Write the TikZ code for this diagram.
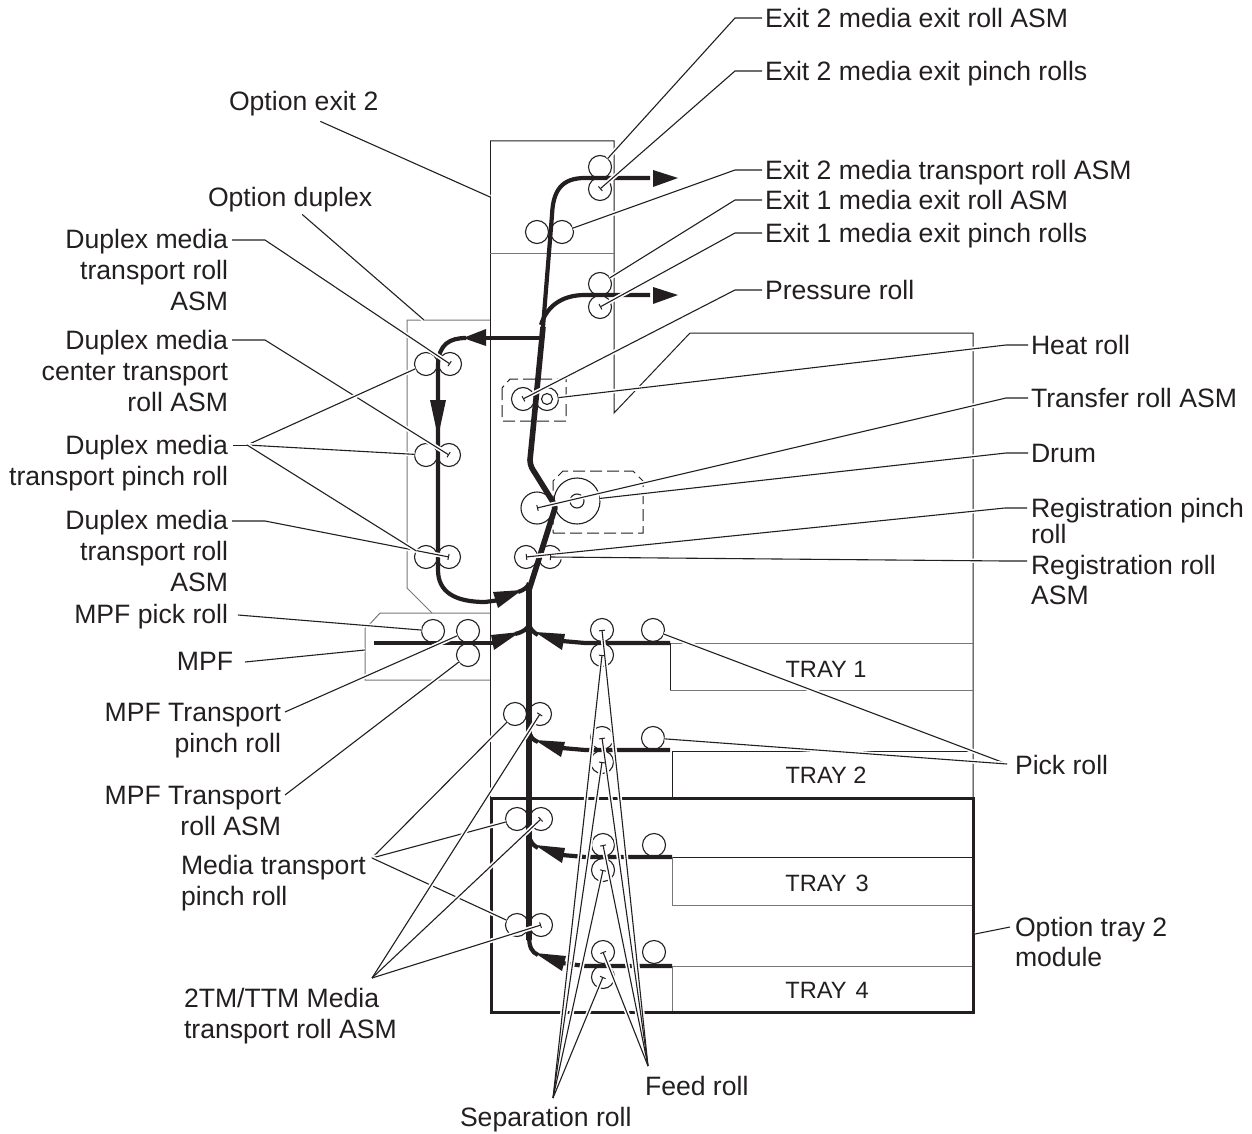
\documentclass[tikz,border=0pt]{standalone}
\usepackage{fontspec}
\setmainfont{Liberation Sans}
\usetikzlibrary{arrows.meta}
\definecolor{ink}{HTML}{231F20}
\definecolor{soft}{HTML}{777777}
\tikzset{
 x=0.5pt,y=-0.5pt,
 every node/.style={inner sep=0pt,outer sep=0pt,text=ink},
 lab/.style={font=\fontsize{13.3}{15.4}\selectfont,align=left,anchor=west},
 labr/.style={font=\fontsize{13.3}{15.4}\selectfont,align=right,anchor=east},
 traylab/.style={font=\fontsize{11.8}{13}\selectfont},
 roll/.style={circle,draw=ink,line width=.55pt,minimum size=11.5pt},
 frame/.style={draw=ink,line width=.5pt},
 framesoft/.style={draw=soft,line width=.5pt},
 trayframe/.style={draw=ink,line width=1.5pt},
 media/.style={draw=ink,line width=2.1pt,line join=round},
 mediamain/.style={draw=ink,line width=2.8pt,line join=round},
 tip/.style={fill=ink,draw=none},
 casing/.style={draw=white,line width=2.2pt},
 leader/.style={draw=ink,line width=.55pt,preaction={casing}},
 lead/.style={leader,-{Bar[width=3pt,line width=.5pt,length=0.5pt]}},
 fantop/.style={draw=ink,line width=.55pt,-{Bar[width=3pt,line width=.5pt,length=0.5pt]}},
}
\begin{document}
\begin{tikzpicture}
\useasboundingbox (0,0) rectangle (1252,1134);
% frames
\path[frame] (490,141) -- (614,141) -- (614,413) -- (690,333) -- (973,333) -- (973,798);
\path[frame] (490,141) -- (490,1012);
\path[framesoft] (490,254) -- (614,254);
\path[framesoft] (490,320) -- (407,320) -- (407,588) -- (432,613);
\path[framesoft] (490,613) -- (380,613) -- (369,625) -- (365,628) -- (365,680) -- (490,680);
\path[framesoft] (670,643) -- (973,643);
\path[frame] (670,643) -- (670,690);
\path[framesoft] (670,690) -- (973,690);
\path[frame] (672,751) -- (973,751);
\path[frame] (672,751) -- (672,798);
\path[frame] (672,857) -- (973,857);
\path[framesoft] (672,857) -- (672,905) -- (973,905);
\path[framesoft] (672,966) -- (973,966);
\path[framesoft] (672,966) -- (672,1012);
\path[frame,dashed,dash pattern=on 6pt off 2.5pt] (502,388) -- (502,421) -- (566,421) -- (566,379) -- (510,379) -- cycle;
\path[frame,dashed,dash pattern=on 6pt off 2.5pt] (553,533) -- (643,533) -- (643,481) -- (633,471) -- (563,471) -- (553,481) -- cycle;
\path[trayframe] (491,798) rectangle (973,1012);
% rolls
\foreach \n/\x/\y in {exAupper/600/167,exAlower/600/189,exTleft/537/232,exTright/562/232,
  exBupper/600/284,exBlower/600/307,dupTl/426/364,dupTr/450/364,press/523/399,heat/547/399,
  dupMl/426/455,dupMr/449/455,dupLl/426/557,dupLr/449/557,regl/526/557,regr/550/557,
  mpfPick/433/631,mpfUp/468/631,mpfDown/468/655,
  feedA/602/630,sepA/602/655,pickA/653/630,
  feedB/602/738,sepB/602/762,pickB/653/738,
  feedC/603/845,sepC/603/870,pickC/654/845,
  feedD/603/952,sepD/603/977,pickD/654/952,
  mtAl/515/714,mtAr/540/714,mtBl/517/819,mtBr/541/819,mtCl/517/925,mtCr/541/925}
  {\node[roll] (\n) at (\x,\y) {};}
\node[roll,minimum size=5.5pt] (heatcore) at (547,399) {};
\node[roll,minimum size=16pt] (transfer) at (537,508) {};
\node[roll,minimum size=23pt] (drum) at (577,501) {};
\node[roll,minimum size=7pt] (drumcore) at (577,501) {};
% media paths
\path[mediamain] (543,327) -- (533,430) -- (530,460) .. controls (530,466) and (533,470) .. (535,473) -- (553,502) -- (555,508) -- (537,565) -- (529,590) -- (529,940);
\path[media] (543,327) -- (552,215) .. controls (553,190) and (562,178) .. (585,178) -- (650,178);
\path[media] (541,325) .. controls (546,308) and (560,295) .. (585,295) -- (650,295);
\path[media] (543,338) -- (480,338);
\path[media] (466,338) .. controls (450,338) and (439,344) .. (438,364) -- (438,570) .. controls (438,592) and (455,602) .. (485,602) -- (500,600);
\path[media] (374,643) -- (495,643);
\path[media] (518,592) .. controls (524,590) and (528,587) .. (529,583);
\path[media] (515,634) .. controls (523,632) and (528,629) .. (529,624);
\path[media] (670,643) -- (585,643) -- (562,641);
\path[media] (538,635) .. controls (533,632) and (530,629) .. (529,624);
\path[media] (670,750) -- (585,750) -- (562,748);
\path[media] (538,742) .. controls (533,740) and (530,737) .. (529,730);
\path[media] (672,857) -- (585,857) -- (562,855);
\path[media] (538,848) .. controls (533,845) and (530,842) .. (529,835);
\path[media] (672,966) -- (585,966) -- (562,963);
\path[media] (538,955) .. controls (532,952) and (529,948) .. (529,935);
% arrow heads
\path[tip] (653,170) -- (678,178) -- (653,187) -- cycle;
\path[tip] (653,287) -- (678,295) -- (653,304) -- cycle;
\path[tip] (486,329) -- (463,338) -- (486,346) -- cycle;
\path[tip] (430,400) -- (438,437) -- (446,400) -- cycle;
\path[tip] (493,592) -- (522,590) -- (498,608) -- cycle;
\path[tip] (491,635) -- (520,632) -- (494,650) -- cycle;
\path[tip] (565,634) -- (535,632) -- (562,650) -- cycle;
\path[tip] (565,742) -- (535,740) -- (561,757) -- cycle;
\path[tip] (565,848) -- (535,845) -- (562,863) -- cycle;
\path[tip] (566,956) -- (535,953) -- (562,971) -- cycle;
% labels
\node[lab] (tExitAroll) at (765,18) {Exit 2 media exit roll ASM};
\node[lab] (tExitApinch) at (765,74) {Exit 2 media exit pinch rolls};
\node[lab] (tExitAtrans) at (765,173) {Exit 2 media transport roll ASM};
\node[lab] (tExitBroll) at (765,200) {Exit 1 media exit roll ASM};
\node[lab] (tExitBpinch) at (765,236) {Exit 1 media exit pinch rolls};
\node[lab] (tPress) at (765,290) {Pressure roll};
\node[lab] (tHeat) at (1031,345) {Heat roll};
\node[lab] (tTransfer) at (1031,398) {Transfer roll ASM};
\node[lab] (tDrum) at (1031,453) {Drum};
\node[lab,font=\fontsize{13.3}{13}\selectfont] (tRegP) at (1031,521) {Registration pinch\\roll};
\node[lab] (tRegR) at (1031,580) {Registration roll\\ASM};
\node[lab] (tPick) at (1015,765) {Pick roll};
\node[lab] (tOpt) at (1015,942) {Option tray 2\\module};
\node[lab] (tOptExit) at (229,104) {Option exit 2};
\node[lab] (tOptDup) at (208,200) {Option duplex};
\node[labr] (tDupA) at (228,270) {Duplex media\\transport roll\\ASM};
\node[labr] (tDupB) at (228,371) {Duplex media\\center transport\\roll ASM};
\node[labr] (tDupP) at (228,463) {Duplex media\\transport pinch roll};
\node[labr] (tDupC) at (228,551) {Duplex media\\transport roll\\ASM};
\node[labr] (tMpfPick) at (228,617) {MPF pick roll};
\node[labr] (tMpf) at (233,661) {MPF};
\node[labr] (tMpfP) at (281,731) {MPF Transport\\pinch roll};
\node[labr] (tMpfR) at (281,811) {MPF Transport\\roll ASM};
\node[lab] (tMedia) at (181,883) {Media transport\\pinch roll};
\node[lab] (tTm) at (184,1016) {2TM/TTM Media\\transport roll ASM};
\node[lab] (tFeed) at (645,1086) {Feed roll};
\node[lab] (tSep) at (460,1120) {Separation roll};
\node[traylab] (tTrayA) at (826,669) {TRAY 1};
\node[traylab] (tTrayB) at (826,775) {TRAY 2};
\node[traylab] (tTrayC) at (827,883) {TRAY\hspace{4.5pt}3};
\node[traylab] (tTrayD) at (827,990) {TRAY\hspace{4.5pt}4};
% junctions for fans
\coordinate (fPick) at (1007,764);
\coordinate (fDup) at (247,445);
\coordinate (fMedia) at (372,858);
\coordinate (fTm) at (372,978);
\coordinate (fFeed) at (648,1066);
\coordinate (fSep) at (553,1098);
\coordinate (sDupA) at (232,240);
\coordinate (sDupB) at (232,340);
\coordinate (sDupC) at (232,521);
\coordinate (sRegP) at (1027,508);
\coordinate (sRegR) at (1027,561);
\coordinate (sOpt) at (1010,927);
\coordinate (sExitA) at (762,18);
\coordinate (sExitB) at (762,71);
\coordinate (sExitC) at (762,170);
\coordinate (sExitD) at (762,200);
\coordinate (sExitE) at (762,233);
\coordinate (sPress) at (762,290);
\coordinate (sDupPin) at (233,445);
\coordinate (sMpfPick) at (238,615);
% leaders
\path[leader] (sExitA) -- ++(-27,0) -- (exAupper);
\path[lead] (sExitB) -- ++(-27,0) -- (exAlower.center);
\path[leader] (sExitC) -- ++(-27,0) -- (exTright);
\path[leader] (sExitD) -- ++(-27,0) -- (exBupper);
\path[lead] (sExitE) -- ++(-27,0) -- (exBlower.center);
\path[lead] (sPress) -- ++(-27,0) -- (press.center);
\path[leader] (tHeat.west) ++(-3,0) -- ++(-22,0) -- (heat);
\path[lead] (tTransfer.west) ++(-3,0) -- ++(-22,0) -- (transfer.center);
\path[leader] (tDrum.west) ++(-3,0) -- ++(-22,0) -- (drum);
\path[lead] (sRegP) -- ++(-22,0) -- (regl.center);
\path[lead] (sRegR) -- ++(-22,0) -- (regr.center);
\path[leader] (fPick) -- (pickA);
\path[leader] (fPick) -- (pickB);
\path[leader] (sOpt) -- (975,934);
\path[leader] (tOptExit.south east) ++(-58,5) -- (490,197);
\path[leader] (tOptDup.south east) ++(-70,2) -- (424,320);
\path[lead] (sDupA) -- ++(33,0) -- (dupTr.center);
\path[lead] (sDupB) -- ++(33,0) -- (dupMr.center);
\path[lead] (sDupC) -- ++(33,0) -- (dupLr.center);
\path[leader] (fDup) -- (dupTl);
\path[leader] (fDup) -- (dupMl);
\path[leader] (fDup) -- (dupLl);
\path[frame] (sDupPin) -- (fDup);
\path[leader] (sMpfPick) -- (mpfPick);
\path[leader] (245,662) -- (365,650);
\path[leader] (285,712) -- (mpfUp);
\path[leader] (285,795) -- (mpfDown);
\path[leader] (fMedia) -- (mtAl);
\path[leader] (fMedia) -- (mtBl);
\path[leader] (fMedia) -- (mtCl);
\foreach \t in {mtAr,mtBr,mtCr} {\path[casing] (fTm) -- (\t.center);}
\foreach \t in {mtAr,mtBr,mtCr} {\path[fantop] (fTm) -- (\t.center);}
\foreach \t in {feedA,feedB,feedC,feedD} {\path[casing] (fFeed) -- (\t.center);}
\foreach \t in {sepA,sepB,sepC,sepD} {\path[casing] (fSep) -- (\t.center);}
\foreach \t in {feedA,feedB,feedC,feedD} {\path[fantop] (fFeed) -- (\t.center);}
\foreach \t in {sepA,sepB,sepC,sepD} {\path[fantop] (fSep) -- (\t.center);}
\end{tikzpicture}
\end{document}
